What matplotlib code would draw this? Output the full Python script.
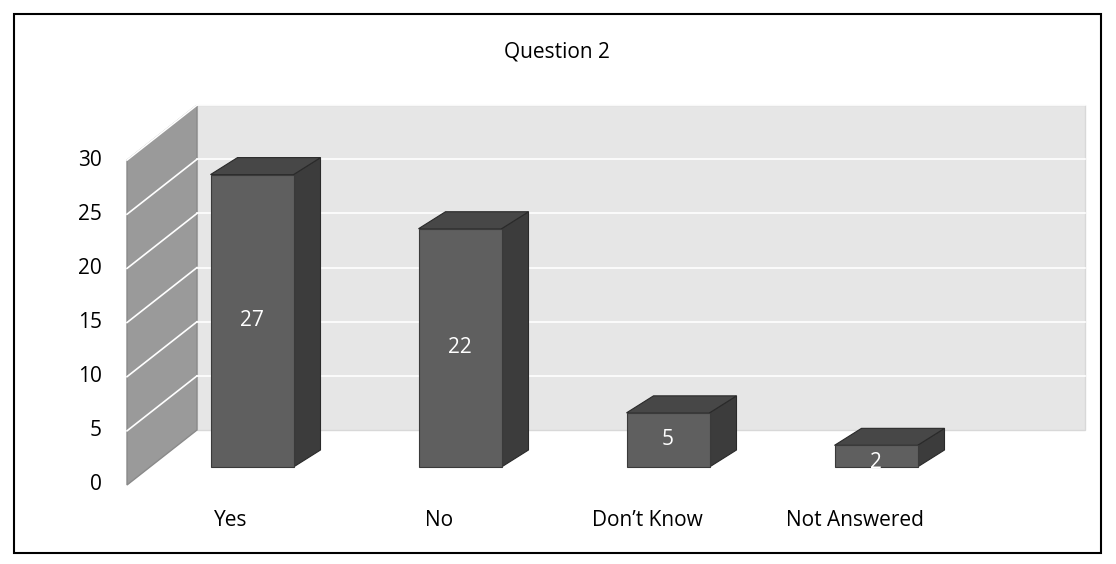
import matplotlib.pyplot as plt
from matplotlib.patches import Polygon, Rectangle

categories = ["Yes", "No", "Don\u2019t Know", "Not Answered"]
values = [27, 22, 5, 2]
ticks = [0, 5, 10, 15, 20, 25, 30]

W, H = 1116, 564
fig = plt.figure(figsize=(W / 100, H / 100), dpi=100)
ax = fig.add_axes([0, 0, 1, 1])
ax.set_xlim(0, W)
ax.set_ylim(H, 0)
ax.axis("off")

# pixel mapping of the pseudo-3d scene
x0_front, y0_front = 127, 485
unit = 10.83
dx_full, dy_full = 70, -55
x_right = 1085


def py(v, depth=0.0):
    return y0_front - v * unit + depth * dy_full


def px(x, depth=0.0):
    return x + depth * dx_full


# outer frame
ax.add_patch(Rectangle((14, 14), 1087, 539, fill=False, ec="black", lw=1.5))
ax.text(557, 52, "Question 2", ha="center", va="center", fontsize=15,
        family="Open Sans")

# back wall
ax.add_patch(Polygon([(px(x0_front, 1), py(0, 1)), (px(x0_front, 1), py(30, 1)),
                      (x_right, py(30, 1)), (x_right, py(0, 1))],
                     closed=True, fc="#e6e6e6", ec="#d8d8d8", lw=1))
# side wall
ax.add_patch(Polygon([(x0_front, py(0)), (x0_front, py(30)),
                      (px(x0_front, 1), py(30, 1)), (px(x0_front, 1), py(0, 1))],
                     closed=True, fc="#9a9a9a", ec="#8a8a8a", lw=1))

for t in ticks[1:]:
    ax.plot([px(x0_front, 1), x_right], [py(t, 1), py(t, 1)], color="white", lw=1.2)
    ax.plot([x0_front, px(x0_front, 1)], [py(t), py(t, 1)], color="white", lw=1.2)
for t in ticks:
    ax.text(102, py(t), str(t), ha="right", va="center", fontsize=15,
            family="Open Sans")

# bars
bar_w = 83
spacing = 208
first_center = 252
bar_base = 467
ddx, ddy = 27, -17
for i, (cat, v) in enumerate(zip(categories, values)):
    c = first_center + i * spacing
    xl = c - bar_w / 2
    xr = xl + bar_w
    yb = bar_base
    yt = bar_base - v * unit
    ax.add_patch(Polygon([(xr, yb), (xr, yt), (xr + ddx, yt + ddy), (xr + ddx, yb + ddy)],
                         closed=True, fc="#3c3c3c", ec="#2a2a2a", lw=0.8, zorder=3))
    ax.add_patch(Polygon([(xl, yt), (xl + ddx, yt + ddy), (xr + ddx, yt + ddy), (xr, yt)],
                         closed=True, fc="#474747", ec="#2a2a2a", lw=0.8, zorder=3))
    ax.add_patch(Rectangle((xl, yt), bar_w, yb - yt, fc="#5f5f5f", ec="#3a3a3a",
                           lw=0.8, zorder=3))
    ax.text(c, (yt + yb) / 2 + (6 if v < 4 else 0), str(v), ha="center", va="center",
            color="white", fontsize=15, family="Open Sans", zorder=4)
    ax.text(c - 21, 520, cat, ha="center", va="center", fontsize=15, family="Open Sans")

fig.savefig("out.png", dpi=100)
